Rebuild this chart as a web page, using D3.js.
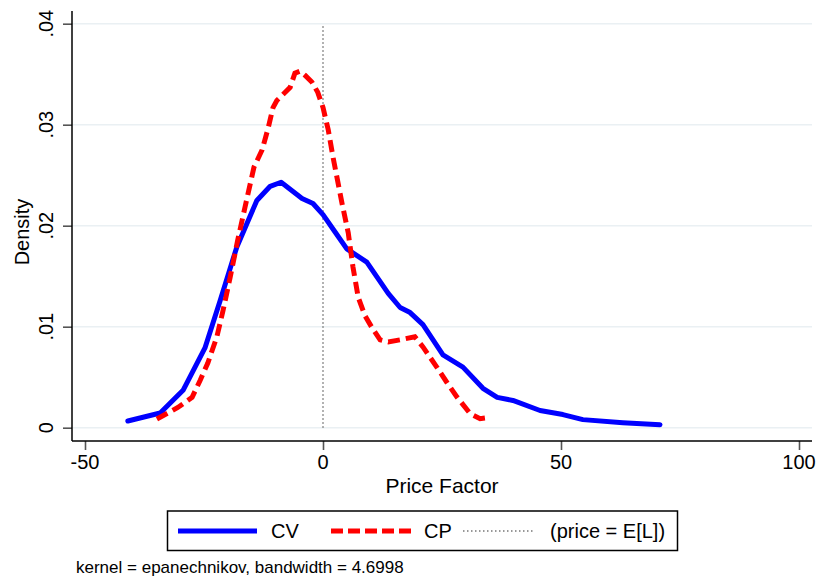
<!DOCTYPE html>
<html>
<head>
<meta charset="utf-8">
<script src="https://cdn.jsdelivr.net/npm/d3@7"></script>
<style>
  body { margin: 0; background: #fff; }
  svg { font-family: Arial, "Liberation Sans", sans-serif; }
</style>
</head>
<body>
<svg width="820" height="581"></svg>
<script>
// kernel density estimates
const cvX = [-41, -34.2, -29.4, -24.8, -21.6, -18.1, -13.9, -11.1, -8.8, -4.4, -2.1, 0, 2.5, 5, 9.2, 13.7, 16.2, 18.3, 21, 25.2, 29.4, 33.6, 36.6, 39.9, 45.6, 50.4, 54.6, 63, 70.8]
const cvY = [0.00066, 0.00146, 0.0037, 0.0079, 0.0126, 0.0179, 0.0225, 0.0239, 0.0243, 0.0227, 0.0222, 0.0211, 0.0194, 0.0177, 0.0164, 0.0133, 0.0119, 0.0114, 0.0102, 0.0072, 0.006, 0.0039, 0.003, 0.0027, 0.0017, 0.0013, 0.0008, 0.0005, 0.0003]

const cpX = [-34.9, -30.5, -27.5, -25.8, -24.2, -22.3, -21, -19.5, -17.9, -16.4, -14.5, -12.8, -11.5, -10.5, -9.7, -8.6, -6.9, -5.9, -4.8, -3.8, -2.3, -1.1, 0, 1.1, 2.1, 4, 5.3, 6.3, 7.4, 8.8, 10.3, 12, 13.7, 16.2, 19.3, 21, 23.9, 26, 28.2, 30.9, 33, 34.7]
const cpY = [0.00086, 0.002, 0.003, 0.0047, 0.0064, 0.009, 0.0116, 0.0149, 0.0186, 0.0218, 0.0258, 0.0275, 0.0297, 0.0317, 0.0324, 0.0329, 0.0337, 0.0351, 0.0353, 0.0349, 0.0342, 0.0332, 0.0317, 0.0295, 0.0268, 0.0222, 0.0193, 0.0159, 0.0129, 0.0111, 0.0099, 0.0087, 0.0085, 0.0087, 0.009, 0.008, 0.006, 0.0045, 0.003, 0.0014, 0.0009, 0.001]

const refX = [0, 0]
const refY = [0, 0.0398]

const xTicks = [-50, 0, 50, 100]
const yTicks = [0, 0.01, 0.02, 0.03, 0.04]
const yTickLabels = ["0", ".01", ".02", ".03", ".04"]

const legendNames = ["CV", "CP", "(price = E[L])"]

const svg = d3.select("svg")

const x = d3.scaleLinear().domain([-50, 100]).range([85, 799])
const y = d3.scaleLinear().domain([0, 0.04]).range([427.7, 23.7])

const plotLeft = 72, plotRight = 812, plotTop = 11, plotBottom = 441

// gridlines
svg.append("g")
	.selectAll("line")
	.data(yTicks)
	.enter()
	.append("line")
	.attr("x1", plotLeft)
	.attr("x2", plotRight)
	.attr("y1", d => y(d))
	.attr("y2", d => y(d))
	.attr("stroke", "#eaf0f3")
	.attr("stroke-width", 1.6)

// y axis
const yAxis = svg.append("g")
	.attr("transform", `translate(${plotLeft},0)`)
	.call(d3.axisLeft(y).tickValues(yTicks).tickSize(9).tickFormat(""))
yAxis.select(".domain").remove()
yAxis.selectAll(".tick line").attr("stroke", "#555").attr("stroke-width", 1.6)

svg.append("line")
	.attr("x1", plotLeft).attr("x2", plotLeft)
	.attr("y1", plotTop).attr("y2", plotBottom)
	.attr("stroke", "#000").attr("stroke-width", 1.5)

svg.append("g")
	.selectAll("text")
	.data(yTicks)
	.enter()
	.append("text")
	.attr("transform", d => `translate(53,${y(d)}) rotate(-90)`)
	.attr("text-anchor", "middle")
	.attr("font-size", 20)
	.text((d, i) => yTickLabels[i])

// x axis
const xAxis = svg.append("g")
	.attr("transform", `translate(0,${plotBottom})`)
	.call(d3.axisBottom(x).tickValues(xTicks).tickSize(9).tickFormat(""))
xAxis.select(".domain").remove()
xAxis.selectAll(".tick line").attr("stroke", "#555").attr("stroke-width", 1.6)

svg.append("line")
	.attr("x1", plotLeft).attr("x2", plotRight)
	.attr("y1", plotBottom).attr("y2", plotBottom)
	.attr("stroke", "#000").attr("stroke-width", 1.5)

svg.append("g")
	.selectAll("text")
	.data(xTicks)
	.enter()
	.append("text")
	.attr("x", d => x(d))
	.attr("y", 469)
	.attr("text-anchor", "middle")
	.attr("font-size", 20)
	.text(d => d)

// axis titles
svg.append("text")
	.attr("x", 442)
	.attr("y", 493)
	.attr("text-anchor", "middle")
	.attr("font-size", 21)
	.text("Price Factor")

svg.append("text")
	.attr("transform", "translate(29,232) rotate(-90)")
	.attr("text-anchor", "middle")
	.attr("font-size", 20)
	.text("Density")

// series
const line = d3.line().x(d => x(d[0])).y(d => y(d[1]))

svg.append("path")
	.datum(refX.map((v, i) => [v, refY[i]]))
	.attr("d", line)
	.attr("fill", "none")
	.attr("stroke", "#777")
	.attr("stroke-width", 1.5)
	.attr("stroke-dasharray", "1.5,2.5")

svg.append("path")
	.datum(cvX.map((v, i) => [v, cvY[i]]))
	.attr("d", line)
	.attr("fill", "none")
	.attr("stroke", "#0000ff")
	.attr("stroke-width", 5)
	.attr("stroke-linejoin", "round")
	.attr("stroke-linecap", "round")

svg.append("path")
	.datum(cpX.map((v, i) => [v, cpY[i]]))
	.attr("d", line)
	.attr("fill", "none")
	.attr("stroke", "#ff0000")
	.attr("stroke-width", 5)
	.attr("stroke-dasharray", "12,6")

// legend
const legend = svg.append("g")

legend.append("rect")
	.attr("x", 167.5).attr("y", 511)
	.attr("width", 510).attr("height", 39.5)
	.attr("fill", "#fff")
	.attr("stroke", "#000")
	.attr("stroke-width", 1.5)

const legendItems = [
	{ x1: 178, x2: 257, tx: 271, stroke: "#0000ff", width: 5, dash: null },
	{ x1: 331, x2: 411, tx: 424, stroke: "#ff0000", width: 5, dash: "12,5" },
	{ x1: 463, x2: 535, tx: 550, stroke: "#777", width: 1.5, dash: "1.5,2.5" }
]

legendItems.forEach((it, i) => {
	legend.append("line")
		.attr("x1", it.x1).attr("x2", it.x2)
		.attr("y1", 531).attr("y2", 531)
		.attr("stroke", it.stroke)
		.attr("stroke-width", it.width)
		.attr("stroke-dasharray", it.dash)
	legend.append("text")
		.attr("x", it.tx)
		.attr("y", 538)
		.attr("font-size", 20)
		.text(legendNames[i])
})

// note
svg.append("text")
	.attr("x", 76)
	.attr("y", 573)
	.attr("font-size", 17)
	.text("kernel = epanechnikov, bandwidth = 4.6998")
</script>
</body>
</html>
